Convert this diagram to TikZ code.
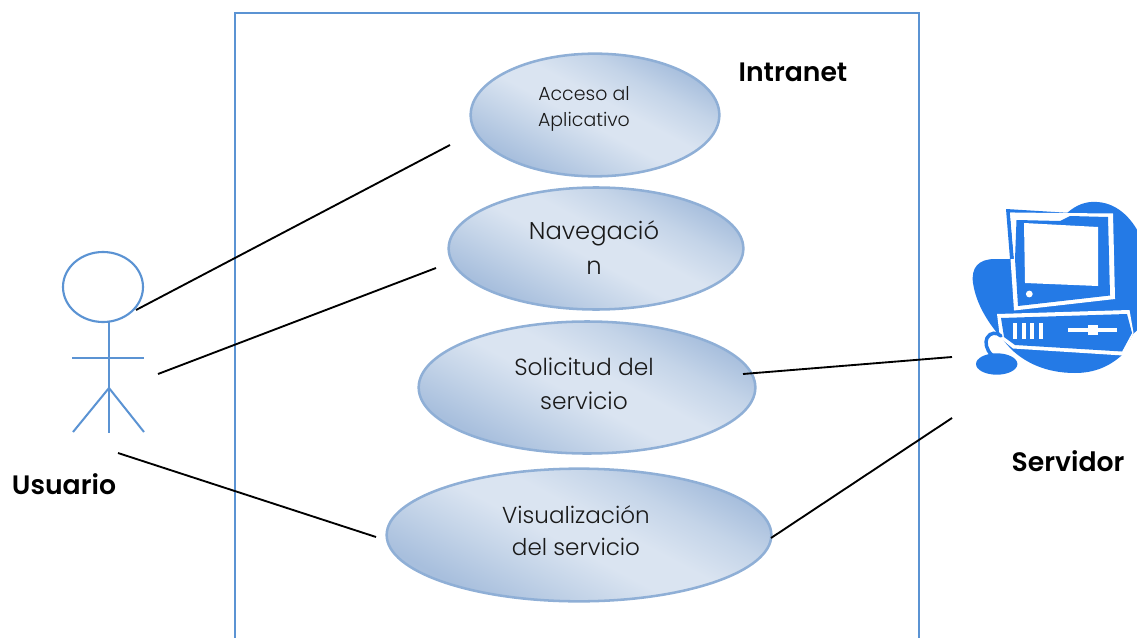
\documentclass[tikz,border=0pt]{standalone}
\usepackage{fontspec}
\setmainfont{Poppins Light}[BoldFont={Poppins SemiBold}]
\usetikzlibrary{shapes.geometric}
\definecolor{framec}{HTML}{5B93D3}
\definecolor{ucline}{HTML}{8FAFD6}
\definecolor{ucdark}{HTML}{A8BFDD}
\definecolor{ucmid}{HTML}{C4D4E8}
\definecolor{uclight}{HTML}{DAE4F1}
\definecolor{iconb}{HTML}{247AE6}
\definecolor{txt}{HTML}{1A1A1A}
\pgfdeclareverticalshading{ucshade}{100bp}{
  color(0bp)=(ucdark); color(27bp)=(ucdark); color(38bp)=(ucmid); color(47bp)=(uclight);
  color(55bp)=(uclight); color(65bp)=(ucmid); color(74bp)=(ucdark); color(100bp)=(ucdark)}
\tikzset{
  usecase/.style={ellipse,draw=ucline,line width=1.9pt,inner sep=0pt,
    shading=ucshade,shading angle=-28},
  actorline/.style={draw=framec,line width=1.5pt},
  link/.style={draw=black,line width=1.4pt},
  utext/.style={align=center,text=txt,inner sep=0pt},
  blabel/.style={text=black,font=\fontsize{20}{22}\selectfont\bfseries,inner sep=0pt},
  iconfill/.style={fill=iconb,draw=none},
  iconwhite/.style={fill=white,draw=none}
}
\begin{document}
\begin{tikzpicture}[x=0.75pt,y=-0.75pt]
\useasboundingbox (0,0) rectangle (1137,638);
% frame
\draw[framec,line width=1.6pt] (235,638) -- (235,13) -- (919,13) -- (919,638);
% use cases
\node[usecase,minimum width=186.5pt,minimum height=92pt] (acceso) at (595,115) {};
\node[usecase,minimum width=221pt,minimum height=91.5pt] (nav) at (596,248.5) {};
\node[usecase,minimum width=252.5pt,minimum height=99pt] (sol) at (587,387.5) {};
\node[usecase,minimum width=288.5pt,minimum height=99.5pt] (vis) at (579,535) {};
\node[utext,font=\fontsize{14.2}{18.9}\selectfont] (accesot) at (584,109) {Acceso al\\Aplicativo};
\node[utext,font=\fontsize{18.2}{26.2}\selectfont] (navt) at (594,248) {Navegació\\n};
\node[utext,font=\fontsize{17.5}{25.2}\selectfont] (solt) at (584,384) {Solicitud del\\servicio};
\node[utext,font=\fontsize{17.3}{24.2}\selectfont] (vist) at (576,531) {Visualización\\del servicio};
\node[blabel] (intranet) at (793,72) {Intranet};
\node[blabel] (usuario) at (64,484) {Usuario};
\node[blabel] (servidor) at (1068,461) {Servidor};
% actor
\node[ellipse,draw=framec,line width=1.6pt,minimum width=60pt,minimum height=52.5pt,inner sep=0pt] (head) at (103,287) {};
\coordinate (neck) at (109,322);
\coordinate (hip) at (109,388);
\coordinate (foot) at (109,433);
\coordinate (armL) at (72,357.5);
\coordinate (armR) at (144,357.5);
\coordinate (legL) at (73,432);
\coordinate (legR) at (144,432);
\draw[actorline] (neck) -- (foot);
\draw[actorline] (armL) -- (armR);
\draw[actorline] (legL) -- (hip) -- (legR);
% computer icon
\begin{scope}
\clip (950,190) rectangle (1137,390);
\fill[iconfill] (1067,213) .. controls (1076,205) and (1086,201) .. (1097,202)
  .. controls (1118,203) and (1134,220) .. (1142,240) -- (1142,326) -- (1133,334) -- (1122,355)
  .. controls (1110,366) and (1095,373) .. (1075,373)
  .. controls (1045,373) and (1025,362) .. (1012,350)
  .. controls (995,332) and (977,310) .. (973,283)
  .. controls (971,268) and (978,259) .. (995,259) -- (1012,259) -- (1040,240) -- cycle;
\fill[iconfill] (1006,209) -- (1071,213) -- (1071,215.5) -- (1010,212.5) -- (1014,259) -- (1010,259) -- cycle;
\fill[iconwhite] (1010,212.5) -- (1113,213.5) -- (1115,299) -- (1014,310.5) -- (1010.5,259) -- (1014,259) -- cycle;
\fill[iconfill] (1016.5,220) -- (1060,221) -- (1070,216) -- (1108,217) -- (1110,295.5) -- (1018,306) -- (1015,259) -- cycle;
\fill[iconwhite] (1024,223) -- (1098,227) -- (1098,286) -- (1025,283) -- cycle;
\fill[iconwhite] (1029.3,294) circle[radius=3.4];
% case
\fill[iconwhite] (997,314) -- (1129.5,310) -- (1133.5,333) -- (1123,355.5) -- (1013,348.5) -- (1000,338) -- cycle;
\fill[iconfill] (1001,318) -- (1127,314) -- (1132,333) -- (1122,351.5) -- (1015,345) -- (1004,337) -- cycle;
\fill[iconwhite] (1013.3,322.7) rectangle (1017.3,339);
\fill[iconwhite] (1021.7,322.7) rectangle (1025.7,339);
\fill[iconwhite] (1030,322.7) rectangle (1034,339);
\fill[iconwhite] (1039,322.7) rectangle (1043,339);
\fill[iconwhite] (1068.3,328.3) -- (1116.7,328.3) -- (1116.7,331.7) -- (1068.3,331.7) -- cycle;
\fill[iconwhite] (1087.7,325) rectangle (1097.7,334.5);
% mouse
\fill[iconfill] (996.7,364) circle[x radius=20.7,y radius=10.7];
\draw[iconb,line width=2.6pt,line cap=round] (992,355) .. controls (986,350) and (985,342) .. (987,338)
  .. controls (990,332) and (997,332) .. (1001,336);
\end{scope}
% connectors
\coordinate (a1) at (136,310);
\coordinate (b1) at (450,145);
\coordinate (a2) at (158,374);
\coordinate (b2) at (436,268);
\coordinate (a3) at (118,453);
\coordinate (b3) at (376,537);
\coordinate (c1) at (743,374);
\coordinate (d1) at (952,357);
\coordinate (c2) at (771,538);
\coordinate (d2) at (952,418);
\draw[link] (a1) -- (b1);
\draw[link] (a2) -- (b2);
\draw[link] (a3) -- (b3);
\draw[link] (c1) -- (d1);
\draw[link] (c2) -- (d2);
\end{tikzpicture}
\end{document}
